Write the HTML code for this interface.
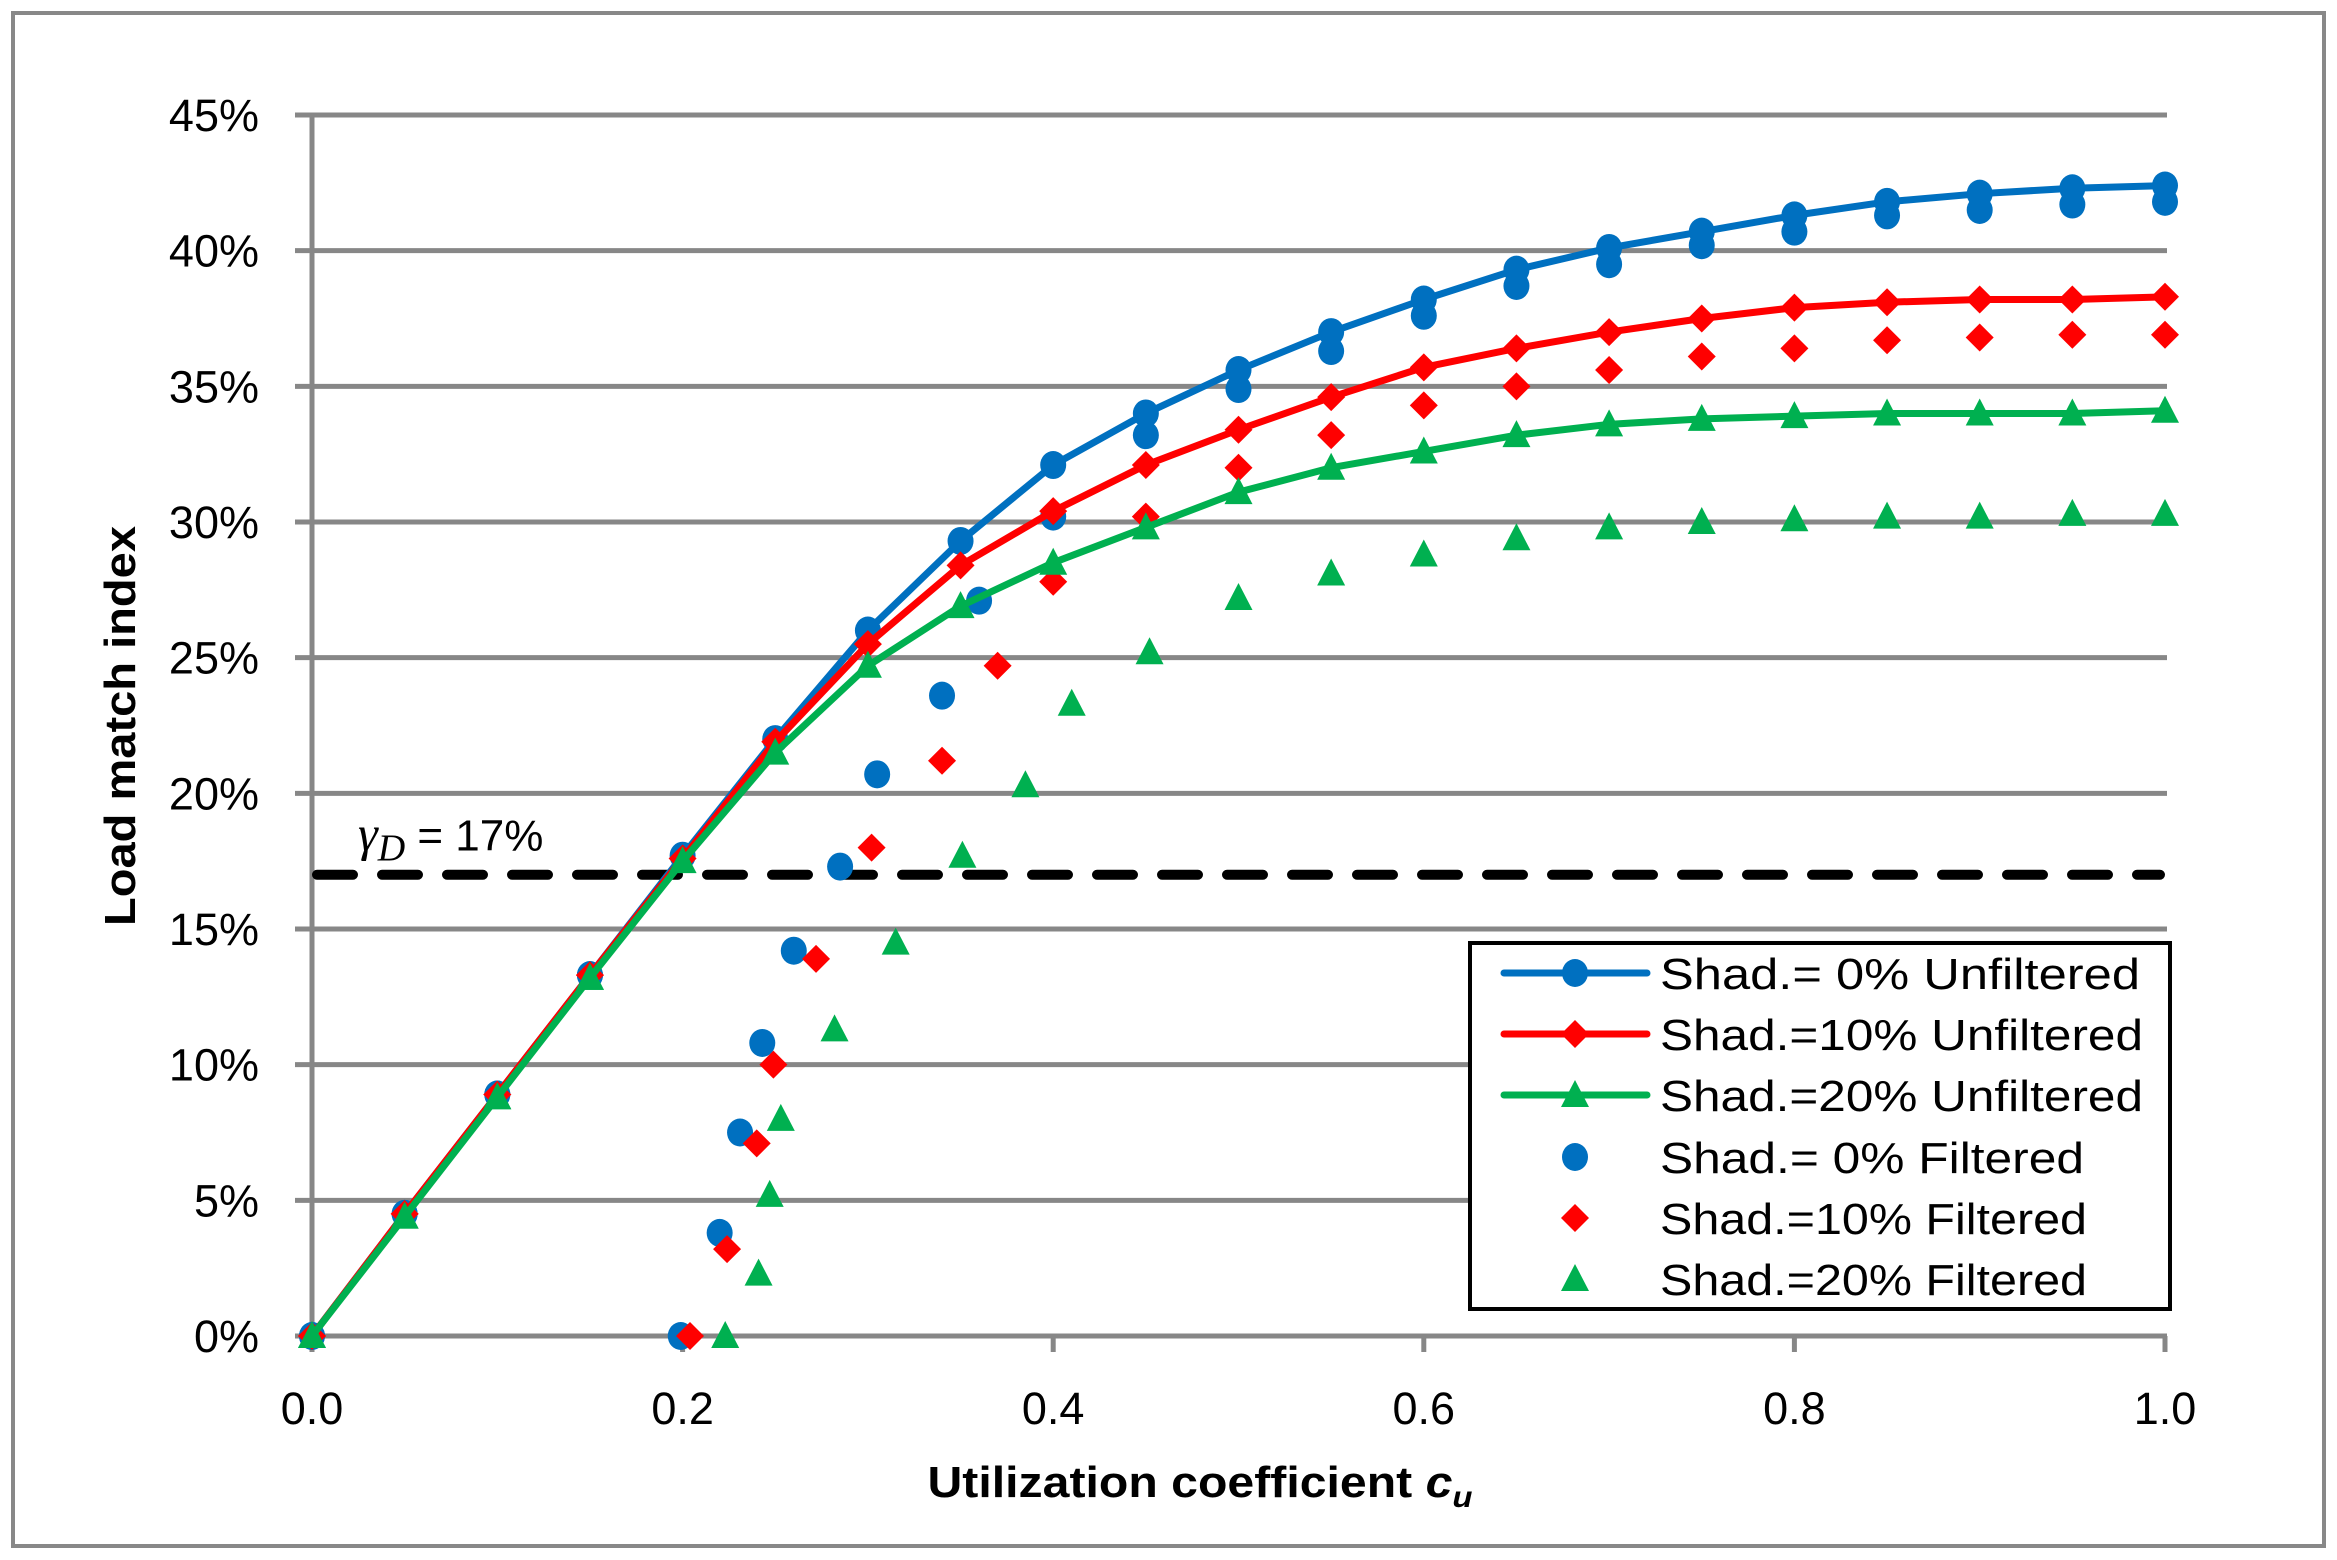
<!DOCTYPE html>
<html><head><meta charset="utf-8"><style>
html,body{margin:0;padding:0;background:#fff}
svg{display:block}
text{font-family:"Liberation Sans",sans-serif}
</style></head><body>
<svg id="chart" width="2337" height="1560" viewBox="0 0 2337 1560">
<rect x="13" y="13" width="2311" height="1533" fill="#fff" stroke="#888" stroke-width="4"/>
<g id="grid"></g>
<g id="axes"></g>
<g id="refline"></g>
<g id="series"></g>
<text x="135" y="726" transform="rotate(-90 135 726)" text-anchor="middle" font-size="44" font-weight="bold" textLength="400" lengthAdjust="spacingAndGlyphs">Load match index</text>
<text x="1200" y="1497" text-anchor="middle" font-size="44" font-weight="bold" textLength="545" lengthAdjust="spacingAndGlyphs">Utilization coefficient <tspan font-style="italic">c</tspan><tspan font-style="italic" font-size="30" dy="10">u</tspan></text>
<g id="legend"></g>
</svg>
<script>
const xTicks=[0,0.2,0.4,0.6,0.8,1.0];
const xTickLabels=["0.0","0.2","0.4","0.6","0.8","1.0"];
const yTicks=[0,5,10,15,20,25,30,35,40,45];
const yTickLabels=["0%","5%","10%","15%","20%","25%","30%","35%","40%","45%"];
const threshold=17;
const xU=[0,0.05,0.1,0.15,0.2,0.25,0.3,0.35,0.4,0.45,0.5,0.55,0.6,0.65,0.7,0.75,0.8,0.85,0.9,0.95,1.0];
const yU0=[0,4.5,8.9,13.3,17.7,22,26,29.3,32.1,34,35.6,37,38.2,39.3,40.1,40.7,41.3,41.8,42.1,42.3,42.4];
const yU10=[0,4.5,8.9,13.3,17.6,21.9,25.5,28.4,30.4,32.1,33.4,34.6,35.7,36.4,37,37.5,37.9,38.1,38.2,38.2,38.3];
const yU20=[0,4.4,8.8,13.2,17.5,21.5,24.7,26.9,28.5,29.8,31.1,32,32.6,33.2,33.6,33.8,33.9,34,34,34,34.1];
const xF0=[0,0.05,0.1,0.15,0.199,0.22,0.231,0.243,0.26,0.285,0.305,0.34,0.36,0.4,0.45,0.5,0.55,0.6,0.65,0.7,0.75,0.8,0.85,0.9,0.95,1.0];
const yF0=[0,4.5,8.9,13.3,0,3.8,7.5,10.8,14.2,17.3,20.7,23.6,27.1,30.2,33.2,34.9,36.3,37.6,38.7,39.5,40.2,40.7,41.3,41.5,41.7,41.8];
const xF10=[0,0.05,0.1,0.15,0.204,0.224,0.24,0.249,0.272,0.302,0.34,0.37,0.4,0.45,0.5,0.55,0.6,0.65,0.7,0.75,0.8,0.85,0.9,0.95,1.0];
const yF10=[0,4.5,8.9,13.3,0,3.2,7.1,10,13.9,18,21.2,24.7,27.8,30.2,32,33.2,34.3,35,35.6,36.1,36.4,36.7,36.8,36.9,36.9];
const xF20=[0,0.05,0.1,0.15,0.223,0.241,0.247,0.253,0.282,0.315,0.351,0.385,0.41,0.452,0.5,0.55,0.6,0.65,0.7,0.75,0.8,0.85,0.9,0.95,1.0];
const yF20=[0,4.4,8.8,13.2,0,2.3,5.2,8,11.3,14.5,17.7,20.3,23.3,25.2,27.2,28.1,28.8,29.4,29.8,30,30.1,30.2,30.2,30.3,30.3];

const NS="http://www.w3.org/2000/svg";
const X0=312,X1=2165,Y0=1336,Y1=115;
function sx(v){return X0+(X1-X0)*v;}
function sy(v){return Y0-(Y0-Y1)*v/45;}
function mk(tag,attrs,parent){const e=document.createElementNS(NS,tag);for(const k in attrs)e.setAttribute(k,attrs[k]);parent.appendChild(e);return e;}
const grid=document.getElementById('grid'),axes=document.getElementById('axes');
yTicks.forEach((t,i)=>{
  if(t>0){const l=mk('line',{x1:X0,x2:X1+2,y1:sy(t),y2:sy(t),stroke:'#878787','stroke-width':5},grid);
  
  }
  const tk=mk('line',{x1:X0-17,x2:X0,y1:sy(t),y2:sy(t),stroke:'#878787','stroke-width':5},axes);
  
  
  const tx=mk('text',{x:259,y:sy(t)+16,'text-anchor':'end','font-size':45},axes);
  tx.textContent=yTickLabels[i];
  
  
});
xTicks.forEach((t,i)=>{
  const tk=mk('line',{x1:sx(t),x2:sx(t),y1:Y0,y2:Y0+16,stroke:'#878787','stroke-width':5},axes);
  
  
  const tx=mk('text',{x:sx(t),y:1424,'text-anchor':'middle','font-size':45},axes);
  tx.textContent=xTickLabels[i];
  
  
});
const ya=mk('line',{x1:X0,x2:X0,y1:Y1,y2:Y0+16,stroke:'#878787','stroke-width':5},axes);


const xa=mk('line',{x1:X0-17,x2:X1+2,y1:Y0,y2:Y0,stroke:'#878787','stroke-width':5},axes);


const rg=document.getElementById('refline');
const dl=mk('line',{x1:X0+5,x2:X1-5,y1:sy(threshold),y2:sy(threshold),stroke:'#000','stroke-width':10,'stroke-dasharray':'36 29','stroke-linecap':'round'},rg);


const lt=mk('text',{x:358,y:sy(threshold)-24,'font-size':44},rg);


lt.innerHTML='<tspan font-family="Liberation Serif" font-style="italic" font-size="50">γ</tspan><tspan font-family="Liberation Serif" font-style="italic" font-size="38" dy="10">D</tspan><tspan dy="-10">  = 17%</tspan>';

const colors={b:'#0070C0',r:'#FF0000',g:'#00B050'};
function marker(type,x,y,c,parent,name){
  let e;
  if(type==='o') e=mk('ellipse',{cx:x,cy:y,rx:13,ry:14,fill:c},parent);
  else if(type==='d') e=mk('polygon',{points:`${x},${y-14} ${x+14},${y} ${x},${y+14} ${x-14},${y}`,fill:c},parent);
  else e=mk('polygon',{points:`${x},${y-15} ${x+14},${y+12} ${x-14},${y+12}`,fill:c},parent);
  
  
  return e;
}
const sg=document.getElementById('series');
function scatter(xs,ys,type,c,name){
  const g=mk('g',{},sg);
  
  
  xs.forEach((x,i)=>marker(type,sx(x),sy(ys[i]),c,g,name+'-point'));
}
function lineSeries(xs,ys,type,c,name){
  const g=mk('g',{},sg);
  
  
  const p=mk('polyline',{points:xs.map((x,i)=>sx(x)+','+sy(ys[i])).join(' '),fill:'none',stroke:c,'stroke-width':7,'stroke-linejoin':'round'},g);
  
  
  xs.forEach((x,i)=>marker(type,sx(x),sy(ys[i]),c,g,name+'-point'));
}
scatter(xF0,yF0,'o',colors.b,'shad-0-filtered');
scatter(xF10,yF10,'d',colors.r,'shad-10-filtered');
scatter(xF20,yF20,'t',colors.g,'shad-20-filtered');
lineSeries(xU,yU0,'o',colors.b,'shad-0-unfiltered');
lineSeries(xU,yU10,'d',colors.r,'shad-10-unfiltered');
lineSeries(xU,yU20,'t',colors.g,'shad-20-unfiltered');

const lg=document.getElementById('legend');
const box=mk('rect',{x:1470,y:943,width:700,height:366,fill:'#fff',stroke:'#000','stroke-width':4},lg);


const entries=[
 ['Shad.=  0% Unfiltered','o',colors.b,true,480],
 ['Shad.=10% Unfiltered','d',colors.r,true,483],
 ['Shad.=20% Unfiltered','t',colors.g,true,483],
 ['Shad.=  0% Filtered','o',colors.b,false,424],
 ['Shad.=10% Filtered','d',colors.r,false,427],
 ['Shad.=20% Filtered','t',colors.g,false,427]];
const rowY=[973,1034,1095,1157,1218,1279];
entries.forEach((e,i)=>{
  const g=mk('g',{},lg);
  
  
  const y=rowY[i];
  if(e[3]){const l=mk('line',{x1:1504,x2:1647,y1:y,y2:y,stroke:e[2],'stroke-width':7,'stroke-linecap':'round'},g);
    
    }
  marker(e[1],1575,y,e[2],g,'legend-marker');
  const t=mk('text',{x:1660,y:y+16,'font-size':44,textLength:e[4],lengthAdjust:'spacingAndGlyphs','xml:space':'preserve'},g);
  t.textContent=e[0];
  
  
});
</script>
</body></html>
